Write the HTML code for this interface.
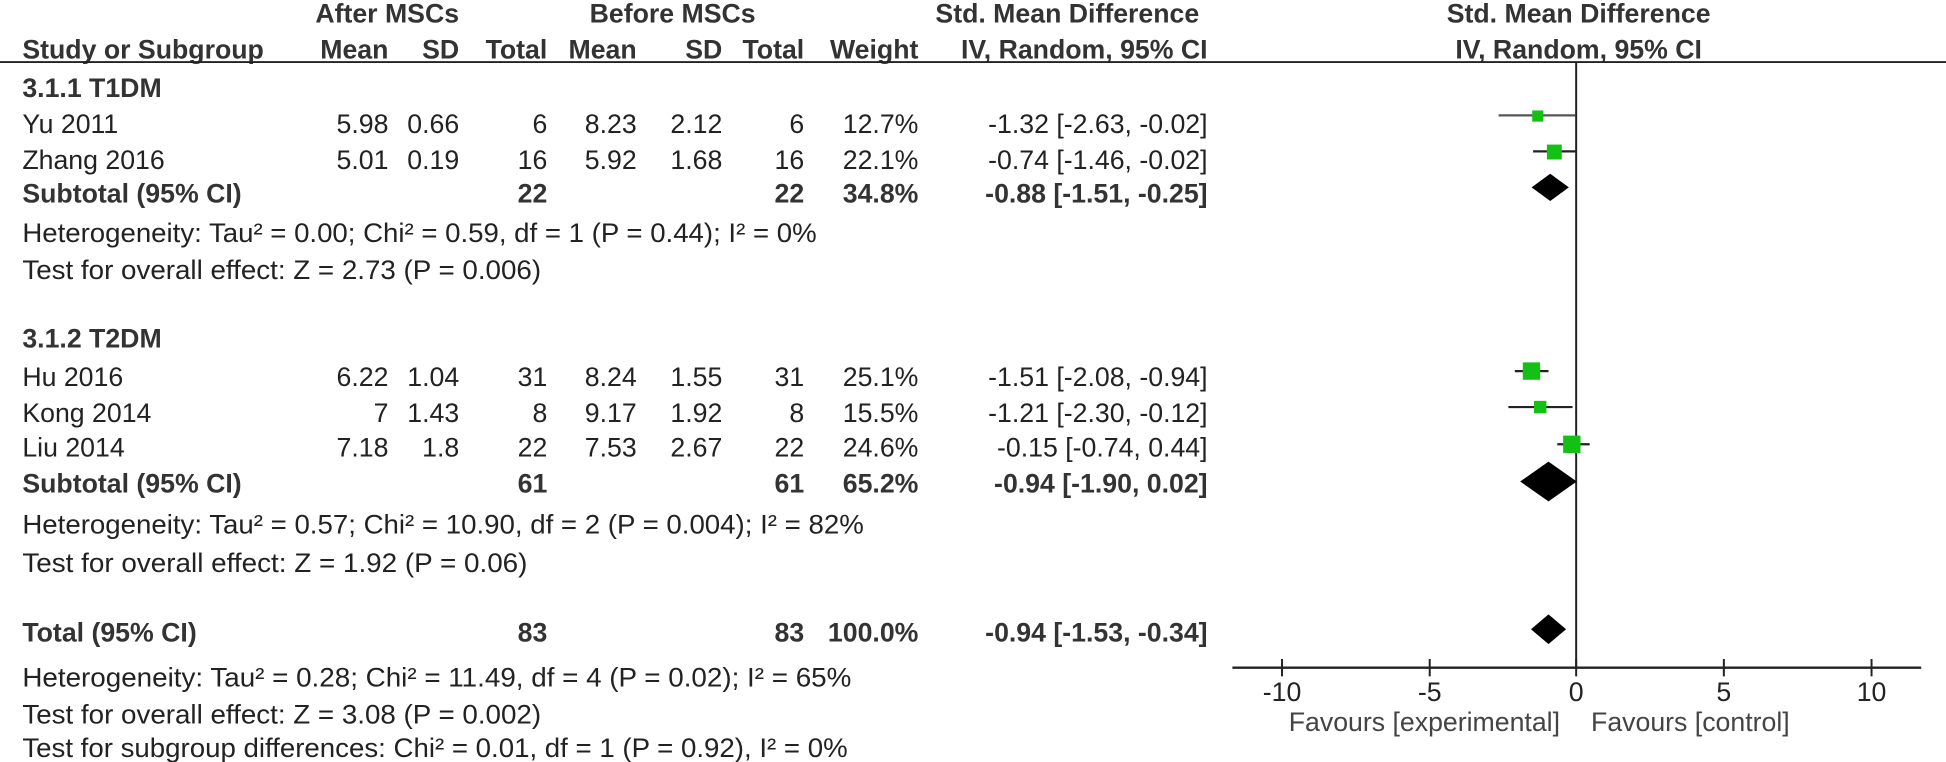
<!DOCTYPE html>
<html><head><meta charset="utf-8"><style>
html,body{margin:0;padding:0;background:#fff;}
svg{display:block;}
text{font-family:"Liberation Sans",Arial,sans-serif;font-size:21.5px;fill:#222;}
.b{font-weight:bold;fill:#333;}
.r{text-anchor:end;}
.c{text-anchor:middle;}
</style></head><body>
<svg width="1946" height="762" viewBox="0 0 1568 614" preserveAspectRatio="none">
<text class="b c" x="312" y="18">After MSCs</text>
<text class="b c" x="542" y="18">Before MSCs</text>
<text class="b c" x="860" y="18">Std. Mean Difference</text>
<text class="b c" x="1272" y="18">Std. Mean Difference</text>
<text class="b" x="18" y="47">Study or Subgroup</text>
<text class="b r" x="313" y="47">Mean</text>
<text class="b r" x="370" y="47">SD</text>
<text class="b r" x="441" y="47">Total</text>
<text class="b r" x="513" y="47">Mean</text>
<text class="b r" x="582" y="47">SD</text>
<text class="b r" x="648" y="47">Total</text>
<text class="b r" x="740" y="47">Weight</text>
<text class="b r" x="973" y="47">IV, Random, 95% CI</text>
<text class="b c" x="1272" y="47">IV, Random, 95% CI</text>
<line x1="0" y1="50" x2="1568" y2="50" stroke="#222" stroke-width="1.5"/>

<text class="b" x="18" y="78">3.1.1 T1DM</text>
<text x="18" y="107">Yu  2011</text>
<text class="r" x="313" y="107">5.98</text><text class="r" x="370" y="107">0.66</text><text class="r" x="441" y="107">6</text><text class="r" x="513" y="107">8.23</text><text class="r" x="582" y="107">2.12</text><text class="r" x="648" y="107">6</text><text class="r" x="740" y="107">12.7%</text><text class="r" x="973" y="107">-1.32 [-2.63, -0.02]</text>
<text x="18" y="136">Zhang 2016</text>
<text class="r" x="313" y="136">5.01</text><text class="r" x="370" y="136">0.19</text><text class="r" x="441" y="136">16</text><text class="r" x="513" y="136">5.92</text><text class="r" x="582" y="136">1.68</text><text class="r" x="648" y="136">16</text><text class="r" x="740" y="136">22.1%</text><text class="r" x="973" y="136">-0.74 [-1.46, -0.02]</text>
<text class="b" x="18" y="163">Subtotal (95% CI)</text>
<text class="b r" x="441" y="163">22</text><text class="b r" x="648" y="163">22</text><text class="b r" x="740" y="163">34.8%</text><text class="b r" x="973" y="163">-0.88 [-1.51, -0.25]</text>
<text x="18" y="195" textLength="640" lengthAdjust="spacingAndGlyphs">Heterogeneity: Tau² = 0.00; Chi² = 0.59, df = 1 (P = 0.44); I² = 0%</text>
<text x="18" y="225" textLength="418" lengthAdjust="spacingAndGlyphs">Test for overall effect: Z = 2.73 (P = 0.006)</text>

<text class="b" x="18" y="280">3.1.2 T2DM</text>
<text x="18" y="311">Hu 2016</text>
<text class="r" x="313" y="311">6.22</text><text class="r" x="370" y="311">1.04</text><text class="r" x="441" y="311">31</text><text class="r" x="513" y="311">8.24</text><text class="r" x="582" y="311">1.55</text><text class="r" x="648" y="311">31</text><text class="r" x="740" y="311">25.1%</text><text class="r" x="973" y="311">-1.51 [-2.08, -0.94]</text>
<text x="18" y="340">Kong 2014</text>
<text class="r" x="313" y="340">7</text><text class="r" x="370" y="340">1.43</text><text class="r" x="441" y="340">8</text><text class="r" x="513" y="340">9.17</text><text class="r" x="582" y="340">1.92</text><text class="r" x="648" y="340">8</text><text class="r" x="740" y="340">15.5%</text><text class="r" x="973" y="340">-1.21 [-2.30, -0.12]</text>
<text x="18" y="368">Liu 2014</text>
<text class="r" x="313" y="368">7.18</text><text class="r" x="370" y="368">1.8</text><text class="r" x="441" y="368">22</text><text class="r" x="513" y="368">7.53</text><text class="r" x="582" y="368">2.67</text><text class="r" x="648" y="368">22</text><text class="r" x="740" y="368">24.6%</text><text class="r" x="973" y="368">-0.15 [-0.74, 0.44]</text>
<text class="b" x="18" y="397">Subtotal (95% CI)</text>
<text class="b r" x="441" y="397">61</text><text class="b r" x="648" y="397">61</text><text class="b r" x="740" y="397">65.2%</text><text class="b r" x="973" y="397">-0.94 [-1.90, 0.02]</text>
<text x="18" y="430" textLength="678" lengthAdjust="spacingAndGlyphs">Heterogeneity: Tau² = 0.57; Chi² = 10.90, df = 2 (P = 0.004); I² = 82%</text>
<text x="18" y="461" textLength="407" lengthAdjust="spacingAndGlyphs">Test for overall effect: Z = 1.92 (P = 0.06)</text>

<text class="b" x="18" y="517">Total (95% CI)</text>
<text class="b r" x="441" y="517">83</text><text class="b r" x="648" y="517">83</text><text class="b r" x="740" y="517">100.0%</text><text class="b r" x="973" y="517">-0.94 [-1.53, -0.34]</text>
<text x="18" y="553" textLength="668" lengthAdjust="spacingAndGlyphs">Heterogeneity: Tau² = 0.28; Chi² = 11.49, df = 4 (P = 0.02); I² = 65%</text>
<text x="18" y="583" textLength="418" lengthAdjust="spacingAndGlyphs">Test for overall effect: Z = 3.08 (P = 0.002)</text>
<text x="18" y="610" textLength="665" lengthAdjust="spacingAndGlyphs">Test for subgroup differences: Chi² = 0.01, df = 1 (P = 0.92), I² = 0%</text>

<line x1="1270" y1="50" x2="1270" y2="538" stroke="#222" stroke-width="1.6"/>
<line x1="993" y1="538" x2="1548" y2="538" stroke="#222" stroke-width="2"/>
<g stroke="#222" stroke-width="1.6">
<line x1="1033" y1="531" x2="1033" y2="545"/><line x1="1152" y1="531" x2="1152" y2="545"/><line x1="1270" y1="531" x2="1270" y2="545"/><line x1="1389" y1="531" x2="1389" y2="545"/><line x1="1508" y1="531" x2="1508" y2="545"/>
</g>
<text class="c" x="1033" y="565">-10</text><text class="c" x="1152" y="565">-5</text><text class="c" x="1270" y="565">0</text><text class="c" x="1389" y="565">5</text><text class="c" x="1508" y="565">10</text>
<text class="r" x="1257" y="589" style="fill:#444">Favours [experimental]</text>
<text x="1282" y="589" style="fill:#444">Favours [control]</text>

<g stroke="#222" stroke-width="1.8">
<line x1="1207.5" y1="93" x2="1269.5" y2="93" stroke="#555"/>
<line x1="1235.3" y1="122" x2="1269.5" y2="122"/>
<line x1="1220.6" y1="299" x2="1247.7" y2="299"/>
<line x1="1215.4" y1="328" x2="1267.1" y2="328"/>
<line x1="1254.8" y1="358" x2="1280.9" y2="358"/>
</g>
<g fill="#14c014">
<rect x="1234.6" y="89" width="9" height="9"/>
<rect x="1246.4" y="116.5" width="12" height="12"/>
<rect x="1227" y="292" width="14" height="14"/>
<rect x="1236" y="323" width="10" height="10"/>
<rect x="1259.5" y="351" width="14" height="14"/>
</g>
<polygon points="1234.1,151 1249.1,140 1264.1,151 1249.1,162" fill="#000"/>
<polygon points="1224.9,388 1247.7,372 1270.5,388 1247.7,404" fill="#000"/>
<polygon points="1233.6,507 1247.7,495 1261.9,507 1247.7,519" fill="#000"/>
</svg>
</body></html>
